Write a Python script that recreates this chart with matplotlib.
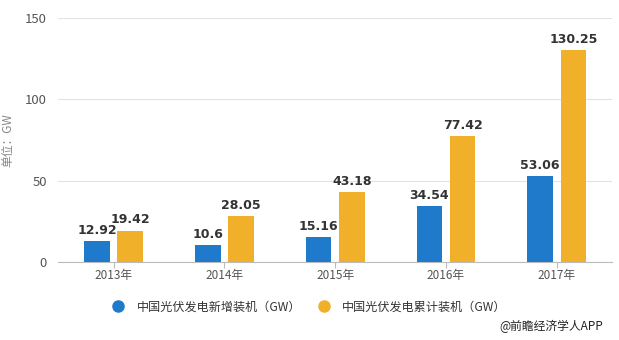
import numpy as np
import matplotlib
matplotlib.use('Agg')
import matplotlib.pyplot as plt
from matplotlib.lines import Line2D

plt.rcParams['font.family'] = ['Noto Sans CJK SC', 'DejaVu Sans']

years = ['2013年', '2014年', '2015年', '2016年', '2017年']
new_gw = [12.92, 10.6, 15.16, 34.54, 53.06]
total_gw = [19.42, 28.05, 43.18, 77.42, 130.25]
labels = ['中国光伏发电新增装机（GW）', '中国光伏发电累计装机（GW）']
yticks = [0, 50, 100, 150]

c_blue = '#1f7acb'
c_orange = '#f0b02a'

fig = plt.figure(figsize=(6.19, 3.4), dpi=100)
ax = fig.add_axes([0.094, 0.229, 0.895, 0.718])

x = np.arange(len(years))
w = 0.23
off = 0.15
b1 = ax.bar(x - off, new_gw, w, color=c_blue, zorder=3)
b2 = ax.bar(x + off, total_gw, w, color=c_orange, zorder=3)

for bars, vals in ((b1, new_gw), (b2, total_gw)):
    for b, v in zip(bars, vals):
        ax.text(b.get_x() + b.get_width() / 2, v + 2.5, f'{v:g}',
                ha='center', va='bottom', fontsize=9, fontweight='bold',
                family='DejaVu Sans', color='#333333', zorder=4)

ax.set_xlim(-0.5, len(years) - 0.5)
ax.set_ylim(0, 150)
ax.set_yticks(yticks)
ax.set_xticks(x)
ax.set_xticklabels(years)
ax.grid(axis='y', color='#e3e3e3', linewidth=0.8, zorder=0)
for s in ['top', 'right', 'left']:
    ax.spines[s].set_visible(False)
ax.spines['bottom'].set_color('#bbbbbb')
ax.tick_params(axis='y', length=0, labelsize=9.5, colors='#555555', pad=8)
ax.tick_params(axis='x', length=4, color='#bbbbbb', labelsize=8.5, colors='#555555', pad=1)
ax.set_ylabel('单位：GW', fontsize=8.5, color='#888888', labelpad=8)

handles = [Line2D([], [], marker='o', linestyle='', markersize=8, color=c_blue),
           Line2D([], [], marker='o', linestyle='', markersize=8, color=c_orange)]
fig.legend(handles, labels, loc='center', bbox_to_anchor=(0.495, 0.097), ncol=2,
           frameon=False, fontsize=8.7, handletextpad=0.5, columnspacing=0.9,
           labelcolor='#333333')

fig.text(0.975, 0.04, '@前瞻经济学人APP', ha='right', va='center', fontsize=8.5, color='#222222')

fig.savefig('out.png', dpi=100)
